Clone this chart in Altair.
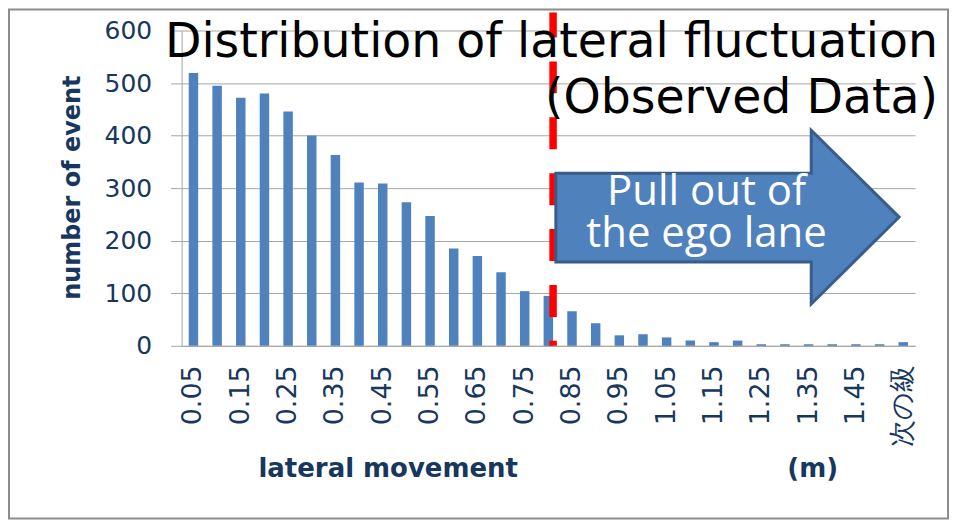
import altair as alt
import pandas as pd

# ---- data ----
categories = ["0.05", "0.1", "0.15", "0.2", "0.25", "0.3", "0.35", "0.4", "0.45", "0.5",
              "0.55", "0.6", "0.65", "0.7", "0.75", "0.8", "0.85", "0.9", "0.95", "1",
              "1.05", "1.1", "1.15", "1.2", "1.25", "1.3", "1.35", "1.4", "1.45", "1.5",
              "次の級"]
counts = [519, 495, 472, 480, 446, 400, 363, 311, 309, 273,
          247, 185, 171, 140, 104, 95, 66, 43, 20, 22,
          16, 10, 7, 10, 3, 3, 3, 3, 3, 3,
          7]
labeled_categories = categories[::2]
y_ticks = [0, 100, 200, 300, 400, 500, 600]
threshold_category = ["0.8"]
title_lines = ["Distribution of lateral fluctuation", "(Observed Data)"]
arrow_lines = ["Pull out of", "the ego lane"]
x_title = "lateral movement"
x_unit = "(m)"
y_title = "number of event"

W, H = 735, 316
NAVY = "#17375e"
GRID = "#a6a6a6"
BAR = "#4f81bd"
ARROW_PATH = ("M -1 -0.256 L 0.488 -0.256 L 0.488 -0.506 L 1 0 "
              "L 0.488 0.506 L 0.488 0.262 L -1 0.262 Z")

df = pd.DataFrame({"bin": categories, "count": counts})
one = pd.DataFrame({"k": [0]})

x_enc = alt.X(
    "bin:N", sort=categories,
    scale=alt.Scale(paddingInner=0.6, paddingOuter=0.3),
    axis=alt.Axis(values=labeled_categories, labelAngle=-90, labelFont="DejaVu Sans",
                  labelFontSize=27, labelColor=NAVY, labelPadding=19, ticks=False,
                  domainColor=GRID, domainWidth=1, grid=False, title=None,
                  labelOverlap=False),
)
y_enc = alt.Y(
    "count:Q",
    scale=alt.Scale(domain=[0, 600], nice=False),
    axis=alt.Axis(values=y_ticks, tickSize=11, tickColor=GRID, gridColor=GRID,
                  domainColor=GRID, labelPadding=19, labelFont="DejaVu Sans",
                  labelFontSize=25, labelColor=NAVY, title=None, labelOverlap=False),
)

border = alt.Chart(one).mark_rect(fillOpacity=0, stroke="#8c8c8c", strokeWidth=2).encode(
    x=alt.value(-173), x2=alt.value(768), y=alt.value(-21), y2=alt.value(489)
)

bars = alt.Chart(df).mark_bar(color=BAR).encode(x=x_enc, y=y_enc)

red = alt.Chart(pd.DataFrame({"bin": threshold_category})).mark_rule(
    color="#ff0000", strokeWidth=7.5, strokeDash=[32, 24], strokeDashOffset=7
).encode(
    x=alt.X("bin:N", sort=categories, bandPosition=1),
    y=alt.value(-18), y2=alt.value(H),
)

arrow = alt.Chart(one).mark_point(
    shape=ARROW_PATH, size=344 * 344, filled=True, fill=BAR, stroke="#385d8a",
    strokeWidth=3, opacity=1, fillOpacity=1, strokeOpacity=1
).encode(x=alt.value(547), y=alt.value(187))

def txt(s, x, y, **kw):
    return alt.Chart(one).mark_text(text=s, **kw).encode(x=alt.value(x), y=alt.value(y))

title1 = txt(title_lines[0], 758, 27, align="right", baseline="alphabetic",
             font="DejaVu Sans", fontSize=47.5, color="black")
title2 = txt(title_lines[1], 758, 83, align="right", baseline="alphabetic",
             font="DejaVu Sans", fontSize=47.5, color="black")
arr1 = txt(arrow_lines[0], 526, 175, align="center", baseline="alphabetic",
           font="Open Sans", fontSize=42, color="white")
arr2 = txt(arrow_lines[1], 526, 217, align="center", baseline="alphabetic",
           font="Open Sans", fontSize=42, color="white")
xt = txt(x_title, 77, 447, align="left", baseline="alphabetic", font="DejaVu Sans",
         fontSize=26, fontWeight="bold", color=NAVY)
xu = txt(x_unit, 607, 447, align="left", baseline="alphabetic", font="DejaVu Sans",
         fontSize=26, fontWeight="bold", color=NAVY)
yt = txt(y_title, -102, 157.5, align="center", baseline="alphabetic", angle=270,
         font="DejaVu Sans", fontSize=24, fontWeight="bold", color=NAVY)

chart = alt.layer(
    border, bars, red, arrow, arr1, arr2, title1, title2, xt, xu, yt
).properties(width=W, height=H, padding=0, background="white").configure_view(strokeWidth=0)

chart.save("out.html", embed_options={"renderer": "svg", "actions": False})
